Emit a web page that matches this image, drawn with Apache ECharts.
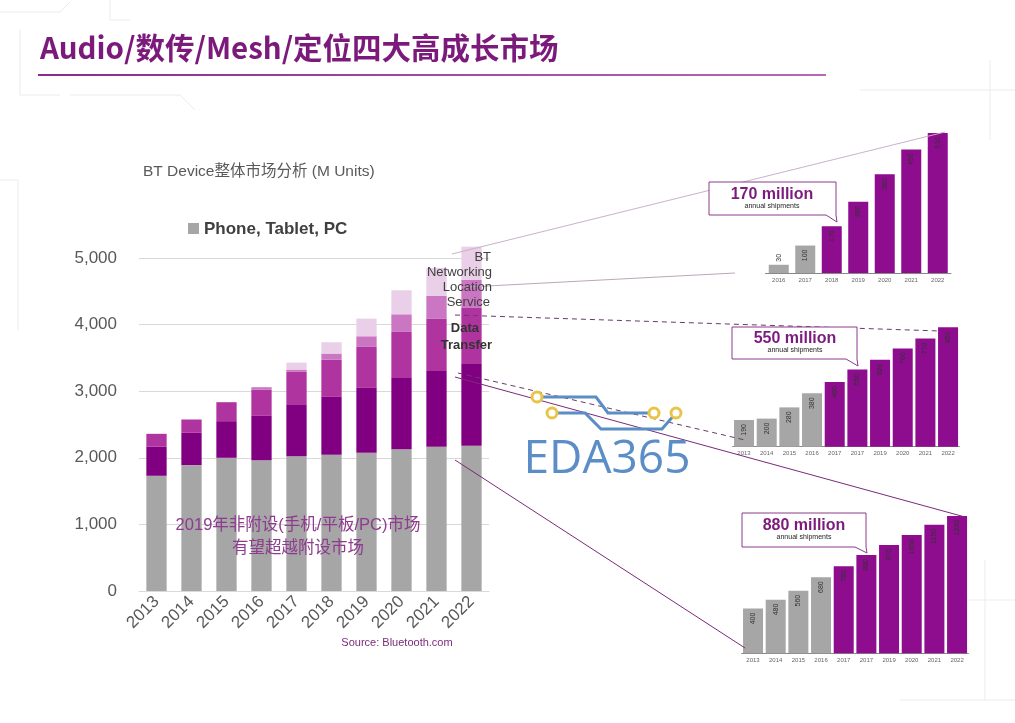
<!DOCTYPE html>
<html><head><meta charset="utf-8">
<script src="https://cdn.jsdelivr.net/npm/echarts@6/dist/echarts.min.js"></script>
<style>html,body{margin:0;padding:0;background:#fff}#c{width:1015px;height:723px}</style>
</head><body><div id="c"></div>
<script>
// ---- Main chart data (M Units) ----
const years = ['2013','2014','2015','2016','2017','2018','2019','2020','2021','2022'];
const phoneTabletPC = [1730,1890,2000,1965,2025,2045,2075,2130,2165,2180];
const audio = [435,485,550,665,780,870,975,1070,1140,1230];
const dataTransfer = [195,200,285,395,485,560,615,690,785,840];
const locationService = [0,0,0,35,35,90,160,265,340,420];
const btNetworking = [0,0,0,0,105,170,265,360,420,500];
const mainTicks = [0,1000,2000,3000,4000,5000];

// ---- Inset charts ----
const topYears = ['2016','2017','2018','2019','2020','2021','2022'];
const topValues = [30,100,170,260,360,450,510];
const topGrayCount = 2;
const midYears = ['2013','2014','2015','2016','2017','2017','2019','2020','2021','2022'];
const midValues = [190,200,280,380,460,550,620,700,770,850];
const midGrayCount = 4;
const botYears = ['2013','2014','2015','2016','2017','2017','2019','2020','2021','2022'];
const botValues = [400,480,560,680,780,880,970,1060,1150,1230];
const botGrayCount = 4;

const GRAY = '#a6a6a6', PURPLE = '#8e0c8e';
function colored(vals, nGray){ return vals.map((v,i)=>({value:v, itemStyle:{color: i<nGray?GRAY:PURPLE}})); }

const chart = echarts.init(document.getElementById('c'));
const smallX = (idx, cats) => ({gridIndex: idx, type:'category', data: cats,
  axisLine:{lineStyle:{color:'#888',width:1}}, axisTick:{show:false},
  axisLabel:{fontSize:6, color:'#666', margin:4, fontFamily:'Arial, Liberation Sans'}});
const smallY = (idx, max) => ({gridIndex: idx, type:'value', min:0, max:max, show:false, splitLine:{show:false}});
const smallLabel = {show:true, position:'insideTop', rotate:90, align:'right', verticalAlign:'middle',
  distance:4, fontSize:7, color:'#333', fontFamily:'Arial, Liberation Sans'};

function stackSeries(name, data, color){
  return {name, type:'bar', stack:'m', data, xAxisIndex:0, yAxisIndex:0, barCategoryGap:'42%',
    itemStyle:{color}, clip:false, emphasis:{disabled:true}};
}

const gline = (x1,y1,x2,y2,color,w,dash)=>({type:'line', shape:{x1,y1,x2,y2},
  style:{stroke:color, lineWidth:w, lineDash:dash||null}, z:100});
function callout(x1,y1,x2,y2,tipX,tipY,baseX,title,cx,ty){
  return [
    {type:'polygon', shape:{points:[[x1,y1],[x2,y1],[x2,y2],[tipX,tipY],[baseX,y2],[x1,y2]]},
      style:{fill:'#fff', stroke:'#8a3a8a', lineWidth:1}, z:110},
    {type:'text', x:cx, y:ty, style:{text:title, font:'bold 16px Arial, "Liberation Sans"', fill:'#7d1a7d', textAlign:'center', textVerticalAlign:'middle'}, z:111},
    {type:'text', x:cx, y:ty+11, style:{text:'annual shipments', font:'7px Arial, "Liberation Sans"', fill:'#222', textAlign:'center', textVerticalAlign:'middle'}, z:111}
  ];
}
const ring = (x,y)=>({type:'circle', shape:{cx:x,cy:y,r:5}, style:{fill:'#fff', stroke:'#e8c447', lineWidth:3}, z:130});
const txt = (x,y,text,font,fill,align)=>({type:'text', x, y, z:120,
  style:{text, font, fill, textAlign:align||'left', textVerticalAlign:'middle'}});
const faint = (pts)=>({type:'polyline', shape:{points:pts}, style:{stroke:'#efe9ef', lineWidth:1, fill:null}, z:-1});

const option = {
  animation:false,
  backgroundColor:'#fff',
  grid:[
    {left:139, top:258, width:350, height:333},
    {left:765.5, top:108.3, width:185.5, height:164.7},
    {left:732.7, top:306.3, width:226.7, height:140.4},
    {left:741.7, top:496.9, width:226.7, height:156.4}
  ],
  xAxis:[
    {gridIndex:0, type:'category', data:years, axisTick:{show:false},
      axisLine:{lineStyle:{color:'#d9d9d9'}},
      axisLabel:{rotate:45, fontSize:17, color:'#595959', margin:8, fontFamily:'Arial, Liberation Sans'}},
    smallX(1, topYears), smallX(2, midYears), smallX(3, botYears)
  ],
  yAxis:[
    {gridIndex:0, type:'value', min:0, max:5000, interval:1000,
      axisLine:{show:false}, axisTick:{show:false},
      splitLine:{lineStyle:{color:'#d9d9d9'}},
      axisLabel:{fontSize:17, color:'#595959', margin:22, fontFamily:'Arial, Liberation Sans',
        formatter:v=>mainTicks.includes(v)?v.toLocaleString('en-US'):''}},
    smallY(1,600), smallY(2,1000), smallY(3,1400)
  ],
  series:[
    stackSeries('Phone, Tablet, PC', phoneTabletPC, GRAY),
    stackSeries('Audio', audio, '#810081'),
    stackSeries('Data Transfer', dataTransfer, '#b0349f'),
    stackSeries('Location Service', locationService, '#cb76c2'),
    stackSeries('BT Networking', btNetworking, '#e9cfe7'),
    {type:'bar', xAxisIndex:1, yAxisIndex:1, data:colored(topValues, topGrayCount), barWidth:20,
      label:Object.assign({}, smallLabel, {formatter:p=>p.value<50?'':p.value}), emphasis:{disabled:true}},
    {type:'bar', xAxisIndex:1, yAxisIndex:1, data:topValues.map(v=>v<50?v:null), barGap:'-100%', barWidth:20,
      itemStyle:{color:'transparent'}, label:{show:true, position:'top', rotate:90, align:'left', verticalAlign:'middle', distance:3, fontSize:7, color:'#333'}, emphasis:{disabled:true}},
    {type:'bar', xAxisIndex:2, yAxisIndex:2, data:colored(midValues, midGrayCount), barWidth:20, label:smallLabel, emphasis:{disabled:true}},
    {type:'bar', xAxisIndex:3, yAxisIndex:3, data:colored(botValues, botGrayCount), barWidth:20, label:smallLabel, emphasis:{disabled:true}}
  ],
  graphic:[].concat(
    [
      faint([[0,12],[60,12],[70,2]]), faint([[20,30],[20,95],[60,95]]), faint([[70,95],[180,95],[195,110]]),
      faint([[110,0],[110,20],[130,20]]), faint([[0,180],[18,180],[18,330]]), faint([[860,90],[1015,90]]),
      faint([[990,60],[990,140]]), faint([[960,600],[1015,600]]), faint([[985,560],[985,700]]), faint([[900,700],[1015,700]]),
      txt(40,48,'Audio/数传/Mesh/定位四大高成长市场','bold 29.5px "Noto Sans CJK SC", sans-serif','#7b1a7b'),
      {type:'line', shape:{x1:38,y1:75,x2:826,y2:75}, style:{stroke:new echarts.graphic.LinearGradient(0,0,1,0,[{offset:0,color:'#8a2a8a'},{offset:1,color:'#b56ab5'}]), lineWidth:2}},
      txt(143,172,'BT Device整体市场分析 (M Units)','15.5px Arial, "Liberation Sans", "Noto Sans CJK SC", sans-serif','#595959'),
      {type:'rect', shape:{x:188,y:223,width:11,height:11}, style:{fill:GRAY}},
      txt(204,229,'Phone, Tablet, PC','bold 17px Arial, "Liberation Sans"','#404040'),
      txt(298,525,'2019年非附设(手机/平板/PC)市场','16.5px Arial, "Liberation Sans", "Noto Sans CJK SC", sans-serif','#8e3a8e','center'),
      txt(298,547,'有望超越附设市场','16.5px "Noto Sans CJK SC", sans-serif','#8e3a8e','center'),
      txt(397,643,'Source: Bluetooth.com','11px Arial, "Liberation Sans"','#7a2a7a','center'),
      txt(491,257,'BT','13px Arial, "Liberation Sans"','#404040','right'),
      txt(492,272,'Networking','13px Arial, "Liberation Sans"','#404040','right'),
      txt(492,287,'Location','13px Arial, "Liberation Sans"','#404040','right'),
      txt(490,302,'Service','13px Arial, "Liberation Sans"','#404040','right'),
      txt(479,328,'Data','bold 13px Arial, "Liberation Sans"','#333','right'),
      txt(492,345,'Transfer','bold 13px Arial, "Liberation Sans"','#333','right'),
      gline(452,254,945,132,'#c9b2c9',1),
      gline(468,287,735,273,'#b9a8b9',1),
      gline(455,315,940,331,'#6a3a6a',1,[5,4]),
      gline(458,373,745,440,'#6a3a6a',1,[5,4]),
      gline(455,377,965,517,'#7a2a7a',1),
      gline(455,460,745,648,'#7a2a7a',1),
      {type:'polyline', shape:{points:[[537,397],[596,397],[608,413],[654,413]]}, style:{stroke:'#5b8dc6', lineWidth:3, fill:null}, z:125},
      {type:'polyline', shape:{points:[[552,413],[585,413],[601,429],[662,429],[676,413]]}, style:{stroke:'#5b8dc6', lineWidth:3, fill:null}, z:125},
      ring(537,397), ring(552,413), ring(654,413), ring(676,413),
      {type:'text', x:607, y:460, style:{text:'EDA365', font:'46px "Open Sans", Arial, sans-serif', fill:'#5b8dc6', textAlign:'center', textVerticalAlign:'middle'}, z:125}
    ],
    callout(709,182,836,215,837,222,826,'170 million',772,195),
    callout(732,327,857,359,858,366,846,'550 million',795,339),
    callout(742,513,866,547,867,553,855,'880 million',804,526)
  )
};
chart.setOption(option);
</script></body></html>
